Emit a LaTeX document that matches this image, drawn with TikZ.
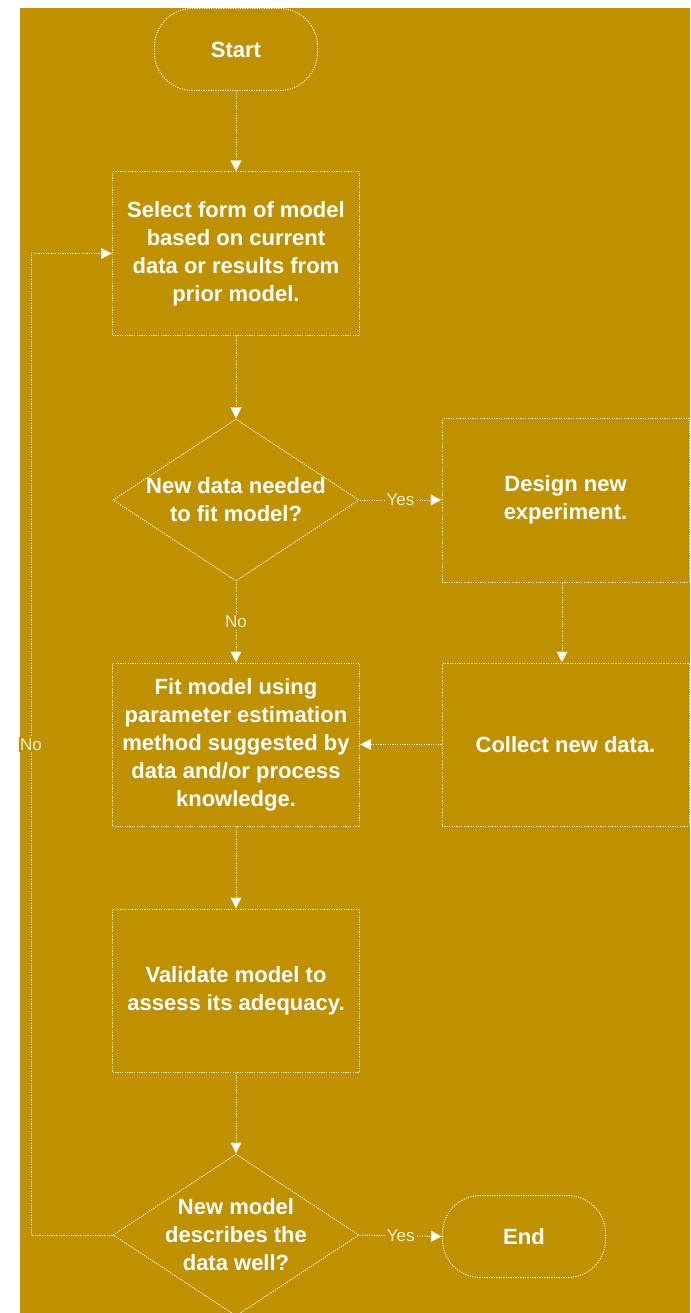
\documentclass[tikz,border=0pt]{standalone}
\usepackage{fontspec}
\setmainfont{Liberation Sans}
\usetikzlibrary{arrows.meta,shapes.geometric,calc}
\definecolor{gold}{HTML}{BF9000}
\definecolor{linecol}{HTML}{F4ECD2}
\tikzset{
    outline/.style={draw=linecol, line width=1pt, dash pattern=on 1.2pt off 1.2pt},
    stepbox/.style={outline, rectangle, minimum width=247pt, minimum height=163pt,
        inner sep=0pt, align=center, text=white,
        font=\bfseries\fontsize{22}{28}\selectfont},
    term/.style={stepbox, minimum width=163pt, minimum height=82pt, rounded corners=38pt},
    decision/.style={outline, diamond, minimum width=246pt, minimum height=162pt, inner sep=0pt},
    dtext/.style={align=center, text=white, inner sep=0pt,
        font=\bfseries\fontsize{22}{28}\selectfont},
    flow/.style={outline, -{Triangle[length=11pt,width=11pt,fill=white]}},
    lbl/.style={fill=gold, text=linecol, inner sep=1.5pt,
        font=\fontsize{17}{20}\selectfont}
}
\begin{document}
\begin{tikzpicture}[x=1pt,y=-1pt]
    \fill[white] (0,0) rectangle (690,1313);
    \useasboundingbox (0,0) rectangle (690,1313);
    \fill[gold] (20,8) rectangle (690,1313);

    \node[term] (Start) at (236,49.5) {Start};
    \node[stepbox] (Select) at (236,253.5) {Select form of model\\based on current\\data or results from\\prior model.};
    \node[decision, label={[dtext]center:{New data needed\\to fit model?}}] (Dec1) at (236,500) {};
    \node[stepbox, minimum height=164pt] (Design) at (565.5,500) {Design new\\experiment.};
    \node[stepbox] (Fit) at (236,744.5) {Fit model using\\parameter estimation\\method suggested by\\data and/or process\\knowledge.};
    \node[stepbox] (Collect) at (565.5,744.5) {Collect new data.};
    \node[stepbox] (Valid) at (236,990.5) {Validate model to\\assess its adequacy.};
    \node[decision, label={[dtext]center:{New model\\describes the\\data well?}}] (Dec2) at (236,1235) {};
    \node[term] (End) at (524,1236.5) {End};
    \coordinate (Loop) at (31,253.5);

    \draw[flow] (Start) -- (Select);
    \draw[flow] (Select) -- (Dec1);
    \draw[flow] (Dec1.east) -- node[lbl] {Yes} (Design.west);
    \draw[flow] (Dec1.south) -- node[lbl] {No} (Fit.north);
    \draw[flow] (Design.south -| 562,0) -- (Collect.north -| 562,0);
    \draw[flow] (Collect.west) -- (Fit.east);
    \draw[flow] (Fit) -- (Valid);
    \draw[flow] (Valid) -- (Dec2);
    \draw[flow] (Dec2.east) -- node[lbl] {Yes} (End.west);
    \draw[flow] (Dec2.west) -| node[lbl, pos=0.75] {No} (Loop) -- (Select.west);
\end{tikzpicture}
\end{document}
